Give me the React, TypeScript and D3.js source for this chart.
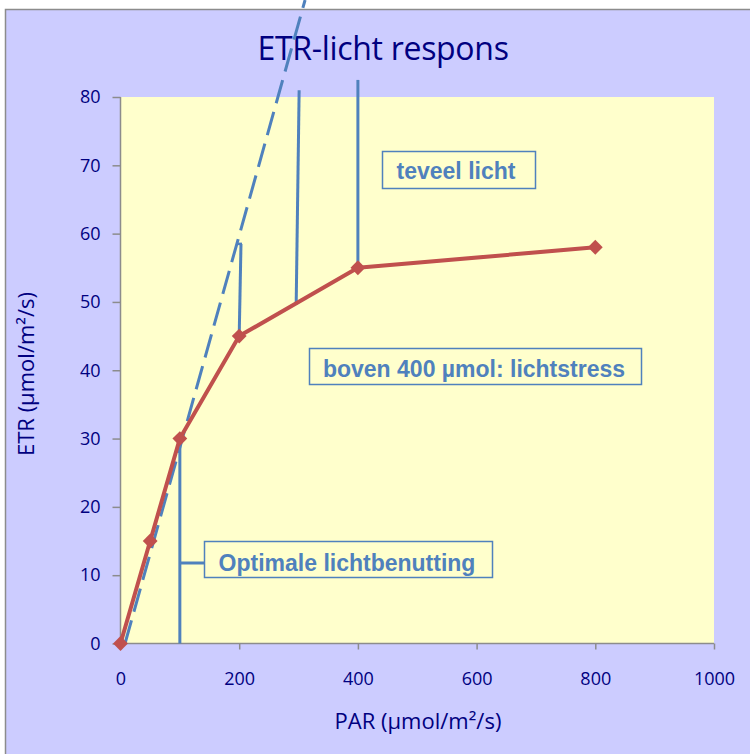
import * as React from 'react';
import * as d3 from 'd3';

// measured series (PAR in µmol/m2/s, ETR in µmol/m2/s)
const parValues = [0, 50, 100, 200, 400, 800];
const etrValues = [0, 15, 30, 45, 55, 58];

const xTicks = [0, 200, 400, 600, 800, 1000];
const yTicks = [0, 10, 20, 30, 40, 50, 60, 70, 80];

// initial slope (dashed) and the vertical markers, in data units
const slopePar = [7.6, 311];
const slopeEtr = [0, 94.2];
const markerParBottom = [100, 200, 296, 400];
const markerParTop = [100, 203, 301, 400];
const markerEtrBottom = [0, 45, 49.6, 55];
const markerEtrTop = [30, 58.5, 81, 82.5];

const labels = ['Optimale lichtbenutting', 'boven 400 µmol: lichtstress', 'teveel licht'];

const W = 750, H = 754;
const M = { left: 120.5, right: 714, top: 97, bottom: 643.5 };
const NAVY = '#000080';
const BLUE = '#4f81bd';
const RED = '#c0504d';
const FONT = '"Open Sans", Lato, sans-serif';

export default function App() {
    const ref = React.useRef<SVGSVGElement>(null);

    React.useEffect(() => {
        const svg = d3.select(ref.current);
        svg.selectAll('*').remove();

        const x = d3.scaleLinear().domain([0, 1000]).range([M.left, M.right]);
        const y = d3.scaleLinear().domain([0, 80]).range([M.bottom, M.top]);

        svg.append('rect').attr('x', 0).attr('y', 0).attr('width', W).attr('height', H).attr('fill', '#fff');
        svg.append('rect')
            .attr('x', 5.5).attr('y', 9.5).attr('width', 900).attr('height', 900)
            .attr('fill', '#ccccff').attr('stroke', '#8c8c8c').attr('stroke-width', 1.5);

        svg.append('rect')
            .attr('x', M.left).attr('y', M.top)
            .attr('width', M.right - M.left).attr('height', M.bottom - M.top)
            .attr('fill', '#ffffcc');

        // title
        svg.append('text')
            .attr('x', 383).attr('y', 60)
            .attr('text-anchor', 'middle')
            .attr('font-family', FONT)
            .attr('font-size', 32)
            .attr('letter-spacing', -0.3)
            .attr('fill', NAVY)
            .text('ETR-licht respons');

        // axes
        const xAxis = d3.axisBottom(x).tickValues(xTicks).tickFormat(d3.format('d')).tickSize(6).tickPadding(23);
        const yAxis = d3.axisLeft(y).tickValues(yTicks).tickSize(8).tickPadding(12);

        const gx = svg.append('g').attr('transform', 'translate(0,' + M.bottom + ')').call(xAxis);
        const gy = svg.append('g').attr('transform', 'translate(' + M.left + ',0)').call(yAxis);
        [gx, gy].forEach((g) => {
            g.select('.domain').attr('stroke', '#8c8c8c').attr('stroke-width', 1.5);
            g.selectAll('.tick line').attr('stroke', '#8c8c8c').attr('stroke-width', 1.5);
            g.selectAll('.tick text')
                .attr('font-family', FONT)
                .attr('font-size', 18)
                .attr('fill', NAVY);
        });
        gx.select('.domain').attr('d', 'M' + M.left + ',0H' + M.right);
        gy.select('.domain').attr('d', 'M0,' + M.bottom + 'V' + M.top);

        // axis titles
        svg.append('text')
            .attr('x', 418).attr('y', 729)
            .attr('text-anchor', 'middle')
            .attr('font-family', FONT)
            .attr('font-size', 22)
            .attr('fill', NAVY)
            .text('PAR (µmol/m²/s)');
        svg.append('text')
            .attr('transform', 'translate(34,374) rotate(-90)')
            .attr('text-anchor', 'middle')
            .attr('font-family', FONT)
            .attr('font-size', 22)
            .attr('fill', NAVY)
            .text('ETR (µmol/m²/s)');

        // dashed initial slope
        const slope = d3.line<number>().x((d) => x(slopePar[d])).y((d) => y(slopeEtr[d]));
        svg.append('path')
            .attr('d', slope([0, 1]))
            .attr('fill', 'none')
            .attr('stroke', BLUE)
            .attr('stroke-width', 3)
            .attr('stroke-dasharray', '24,9');

        // vertical marker lines
        markerParBottom.forEach((p, i) => {
            svg.append('line')
                .attr('x1', x(p)).attr('y1', y(markerEtrBottom[i]))
                .attr('x2', x(markerParTop[i])).attr('y2', y(markerEtrTop[i]))
                .attr('stroke', BLUE).attr('stroke-width', 3);
        });
        // little hook at top of the 200 marker
        svg.append('line')
            .attr('x1', x(markerParTop[1]) - 4).attr('y1', y(markerEtrTop[1]))
            .attr('x2', x(markerParTop[1]) + 1).attr('y2', y(markerEtrTop[1]))
            .attr('stroke', BLUE).attr('stroke-width', 2.5);

        // connector to the first label box
        svg.append('line')
            .attr('x1', x(markerParBottom[0])).attr('y1', 563)
            .attr('x2', 204).attr('y2', 563)
            .attr('stroke', BLUE).attr('stroke-width', 3);

        // series
        const idx = d3.range(parValues.length);
        const line = d3.line<number>().x((i) => x(parValues[i])).y((i) => y(etrValues[i]));
        svg.append('path')
            .attr('d', line(idx))
            .attr('fill', 'none')
            .attr('stroke', RED)
            .attr('stroke-width', 4)
            .attr('stroke-linejoin', 'round');

        const diamond = d3.symbol().type(d3.symbolSquare).size(110);
        svg.selectAll('.pt').data(idx).enter().append('path')
            .attr('class', 'pt')
            .attr('d', diamond())
            .attr('transform', (i) => 'translate(' + x(parValues[i]) + ',' + y(etrValues[i]) + ') rotate(45)')
            .attr('fill', RED);

        // label boxes
        const boxes = [
            { x: 204, y: 541, w: 288, h: 36, tx: 347, ty: 571 },
            { x: 309, y: 348, w: 332, h: 36, tx: 474, ty: 377 },
            { x: 382, y: 151, w: 153, h: 37, tx: 456, ty: 179 },
        ];
        boxes.forEach((b, i) => {
            svg.append('rect')
                .attr('x', b.x + 0.5).attr('y', b.y + 0.5).attr('width', b.w).attr('height', b.h)
                .attr('fill', '#ffffcc').attr('stroke', BLUE).attr('stroke-width', 1.5);
            svg.append('text')
                .attr('x', b.tx).attr('y', b.ty)
                .attr('text-anchor', 'middle')
                .attr('font-family', '"Liberation Sans", Arial, sans-serif')
                .attr('font-weight', 'bold')
                .attr('font-size', 23)
                .attr('fill', BLUE)
                .text(labels[i]);
        });
    }, []);

    return (
        <svg ref={ref} width={W} height={H} style={{ display: 'block', position: 'absolute', left: 0, top: 0 }}></svg>
    );
}
